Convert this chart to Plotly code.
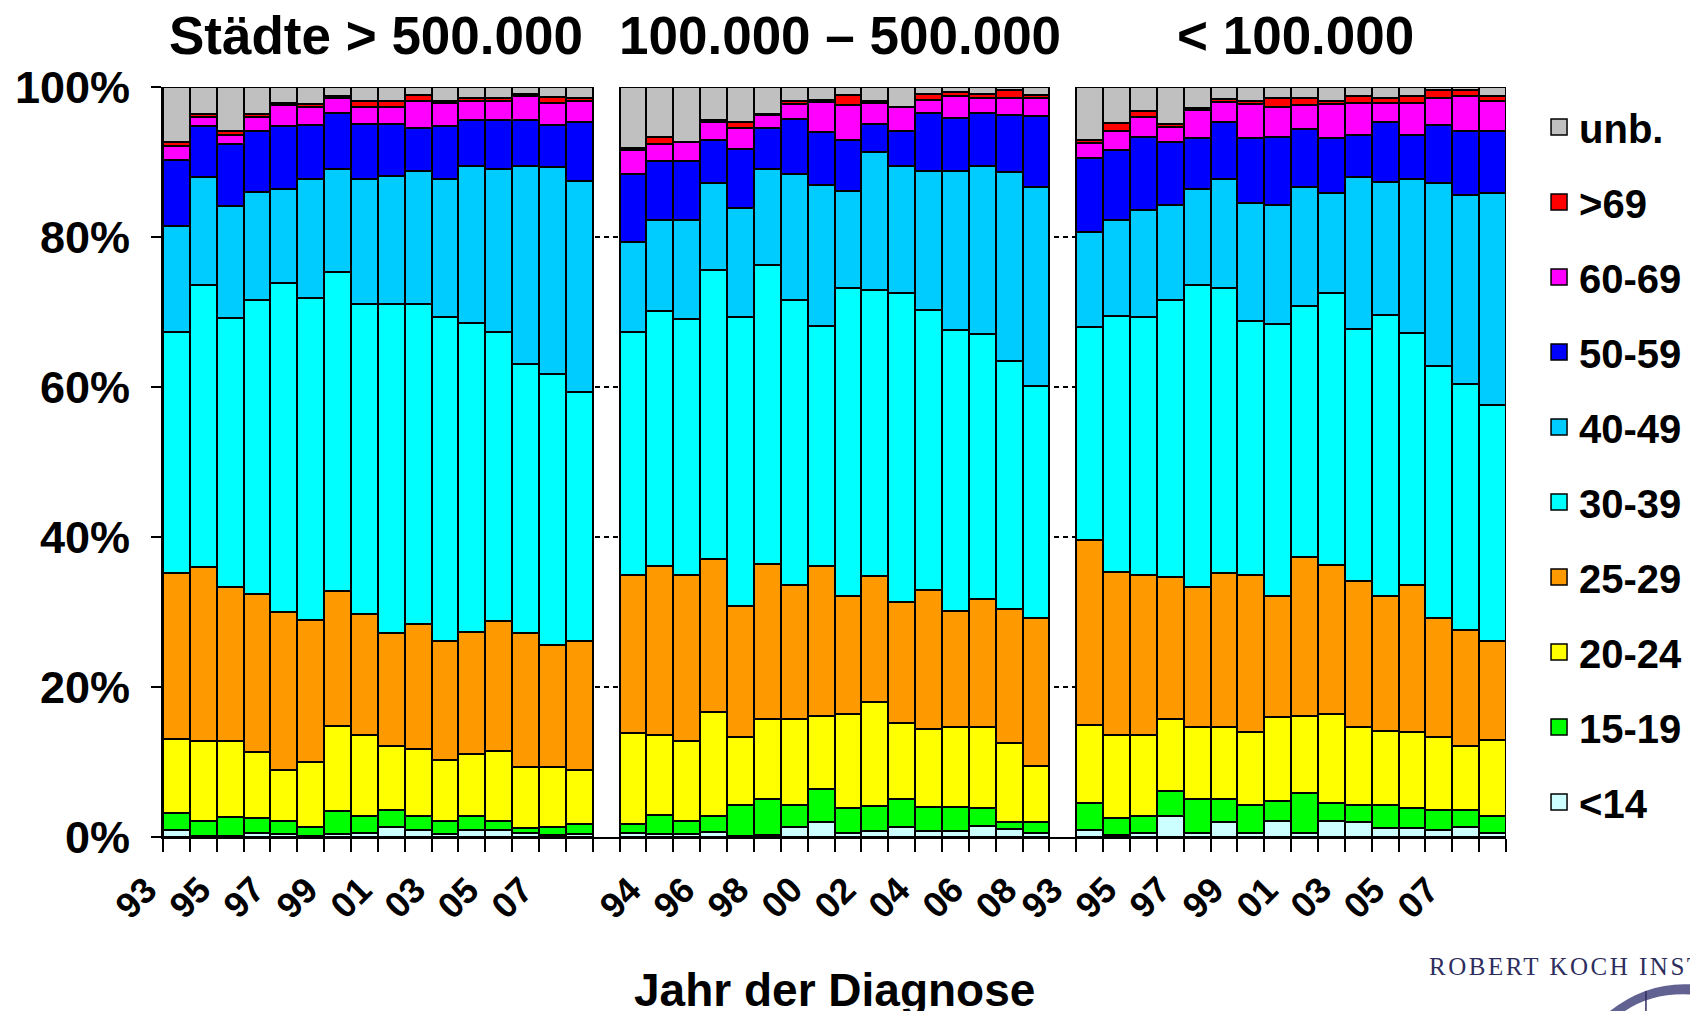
import plotly.graph_objects as go

# ---------------- data (percent of cases per age group) ----------------
years_gt500 = ["93", "94", "95", "96", "97", "98", "99", "00", "01", "02", "03", "04", "05", "06", "07", "08"]
years_mid = ["94", "95", "96", "97", "98", "99", "00", "01", "02", "03", "04", "05", "06", "07", "08", "09"]
years_lt100 = ["93", "94", "95", "96", "97", "98", "99", "00", "01", "02", "03", "04", "05", "06", "07", "08"]

panel_titles = ["Städte > 500.000", "100.000 – 500.000", "< 100.000"]
age_groups = ["<14", "15-19", "20-24", "25-29", "30-39", "40-49", "50-59", "60-69", ">69", "unb."]
age_colors = ["#CCFFFF", "#00FF00", "#FFFF00", "#FF9900", "#00FFFF", "#00CCFF", "#0000FF", "#FF00FF", "#FF0000", "#C0C0C0"]

# each list: 16 bars (>500.000), 16 bars (100.000-500.000), 16 bars (<100.000)
v_lt14 = [1.0, 0.2, 0.1, 0.6, 0.4, 0.2, 0.4, 0.6, 1.4, 0.9, 0.4, 0.9, 0.9, 0.5, 0.3, 0.4,
          0.6, 0.4, 0.4, 0.7, 0.1, 0.3, 1.4, 2.0, 0.6, 0.8, 1.4, 0.8, 0.8, 1.5, 1.1, 0.5,
          1.0, 0.3, 0.6, 2.8, 0.6, 2.0, 0.6, 2.2, 0.6, 2.2, 2.0, 1.2, 1.2, 0.9, 1.4, 0.6]
v_15_19 = [2.2, 2.0, 2.6, 1.9, 1.8, 1.2, 3.1, 2.2, 2.2, 1.9, 1.8, 1.9, 1.3, 0.7, 1.1, 1.3,
           1.1, 2.6, 1.8, 2.1, 4.2, 4.8, 2.9, 4.4, 3.3, 3.3, 3.7, 3.2, 3.2, 2.4, 0.9, 1.5,
           3.5, 2.2, 2.2, 3.3, 4.5, 3.1, 3.7, 2.6, 5.3, 2.3, 2.3, 3.1, 2.7, 2.7, 2.2, 2.2]
v_20_24 = [9.9, 10.6, 10.1, 8.8, 6.8, 8.6, 11.3, 10.8, 8.5, 9.0, 8.1, 8.3, 9.3, 8.2, 8.0, 7.3,
           12.2, 10.6, 10.6, 13.9, 9.1, 10.6, 11.4, 9.8, 12.5, 13.9, 10.1, 10.4, 10.7, 10.8, 10.6, 7.5,
           10.5, 11.1, 10.8, 9.6, 9.6, 9.6, 9.7, 11.2, 10.3, 11.9, 10.4, 9.9, 10.1, 9.8, 8.5, 10.1]
v_25_29 = [22.1, 23.2, 20.6, 21.1, 21.0, 19.0, 18.0, 16.2, 15.1, 16.6, 15.8, 16.3, 17.3, 17.8, 16.2, 17.2,
           21.1, 22.6, 22.2, 20.4, 17.4, 20.7, 17.9, 19.9, 15.7, 16.8, 16.1, 18.5, 15.5, 17.1, 17.8, 19.7,
           24.6, 21.8, 21.4, 19.0, 18.7, 20.5, 21.0, 16.1, 21.1, 19.9, 19.5, 17.9, 19.6, 15.8, 15.5, 13.3]
v_30_39 = [32.2, 37.6, 35.8, 39.2, 43.9, 42.9, 42.5, 41.3, 43.9, 42.7, 43.2, 41.1, 38.6, 35.9, 36.2, 33.2,
           32.4, 33.9, 34.1, 38.5, 38.5, 39.9, 38.0, 32.1, 41.1, 38.1, 41.3, 37.4, 37.4, 35.3, 33.1, 31.0,
           28.4, 34.1, 34.3, 36.9, 40.2, 38.0, 33.8, 36.3, 33.5, 36.3, 33.5, 37.5, 33.6, 33.6, 32.8, 31.4]
v_40_49 = [14.1, 14.4, 14.9, 14.4, 12.5, 15.8, 13.8, 16.6, 17.1, 17.7, 18.4, 21.0, 21.7, 26.4, 27.5, 28.1,
           11.9, 12.2, 13.2, 11.6, 14.6, 12.8, 16.8, 18.7, 13.0, 18.5, 16.9, 18.5, 21.2, 22.4, 25.2, 26.5,
           12.7, 12.8, 14.3, 12.7, 12.8, 14.5, 15.7, 15.9, 15.9, 13.3, 20.3, 17.8, 20.5, 24.4, 25.2, 28.3]
v_50_59 = [8.8, 6.8, 8.3, 8.2, 8.4, 7.3, 7.5, 7.4, 6.9, 5.7, 7.1, 6.1, 6.5, 6.1, 5.7, 7.8,
           9.1, 7.8, 7.8, 5.8, 7.8, 5.4, 7.4, 7.1, 6.8, 3.7, 4.7, 7.8, 7.1, 7.1, 7.6, 9.4,
           9.9, 9.3, 9.8, 8.4, 6.8, 7.6, 8.7, 9.1, 7.7, 7.3, 5.6, 7.9, 5.9, 7.8, 8.6, 8.3]
v_60_69 = [1.9, 1.2, 1.2, 1.8, 2.8, 2.3, 2.0, 2.3, 2.3, 3.7, 3.1, 2.5, 2.5, 3.2, 2.9, 2.8,
           3.2, 2.3, 2.6, 2.3, 2.8, 1.8, 2.0, 4.0, 4.6, 2.8, 3.1, 1.7, 2.9, 2.0, 2.3, 2.5,
           2.0, 2.6, 2.6, 2.0, 3.8, 2.7, 4.6, 3.9, 3.2, 4.6, 4.3, 2.6, 4.3, 3.5, 4.6, 3.9]
v_gt69 = [0.5, 0.4, 0.6, 0.4, 0.3, 0.5, 0.2, 0.7, 0.7, 0.8, 0.3, 0.4, 0.4, 0.3, 0.8, 0.4,
          0.3, 1.0, 0.0, 0.3, 0.9, 0.1, 0.4, 0.3, 1.4, 0.3, 0.1, 0.8, 0.5, 0.5, 1.0, 0.4,
          0.4, 1.0, 0.8, 0.4, 0.2, 0.4, 0.3, 1.2, 1.0, 0.4, 0.9, 0.7, 0.9, 1.1, 0.8, 0.7]
v_unb = [7.3, 3.6, 5.8, 3.6, 2.1, 2.2, 1.2, 1.9, 1.9, 1.0, 1.8, 1.5, 1.5, 0.9, 1.3, 1.5,
         8.1, 6.6, 7.3, 4.4, 4.6, 3.6, 1.8, 1.7, 1.0, 1.8, 2.6, 0.9, 0.7, 0.9, 0.4, 1.0,
         7.0, 4.8, 3.2, 4.9, 2.8, 1.6, 1.9, 1.5, 1.4, 1.8, 1.2, 1.4, 1.2, 0.4, 0.4, 1.2]

y_ticks = [0, 20, 40, 60, 80, 100]

series = [v_lt14, v_15_19, v_20_24, v_25_29, v_30_39, v_40_49, v_50_59, v_60_69, v_gt69, v_unb]

# ---------------- layout helpers ----------------
panels = [years_gt500, years_mid, years_lt100]
# in the original the year labels of each block are set somewhat left of their bars
label_shift = [-1.5, -0.47, -1.77]   # in bar widths, per block
positions = []
year_labels = []
label_pos = []
for p, yrs in enumerate(panels):
    for i, yr in enumerate(yrs):
        pos = p * (len(yrs) + 1) + i
        positions.append(pos)
        if i % 2 == 0:
            year_labels.append(yr)
            label_pos.append(pos + label_shift[p])
n_slots = positions[-1] + 1

FONT = "Liberation Sans, Arial, sans-serif"

fig = go.Figure()
for name, col, vals in zip(age_groups, age_colors, series):
    fig.add_trace(go.Bar(
        x=positions, y=vals, name=name, width=1,
        marker=dict(color=col, line=dict(color="black", width=2)),
        showlegend=False, legendgroup=name,
        hovertemplate=name + ": %{y:.1f}%<extra></extra>",
    ))

# legend entries (top: unb., bottom: <14)
for name, col in zip(reversed(age_groups), reversed(age_colors)):
    fig.add_trace(go.Scatter(
        x=[None], y=[None], mode="markers", name=name, legendgroup=name,
        marker=dict(symbol="square", size=16, color=col, line=dict(color="black", width=1.5)),
    ))

fig.update_layout(
    width=1690, height=1003,
    margin=dict(l=155, r=192, t=79, b=174, autoexpand=False),
    paper_bgcolor="white", plot_bgcolor="white",
    barmode="stack", bargap=0,
    font=dict(family=FONT, color="black", weight="bold"),
    xaxis=dict(
        type="linear", range=[-0.5, n_slots - 0.5],
        tickmode="array", tickvals=positions, ticks="", showticklabels=False,
        showline=True, linecolor="black", linewidth=2,
        showgrid=False, zeroline=False, automargin=False,
        minor=dict(tickmode="linear", tick0=-0.5, dtick=1, ticks="outside",
                   ticklen=13, tickwidth=2, tickcolor="black", showgrid=False),
    ),
    yaxis=dict(
        range=[0, 100], tickmode="array", tickvals=y_ticks,
        ticktext=[f"{v}%" for v in y_ticks],
        ticks="outside", ticklen=10, tickwidth=2, tickcolor="black",
        ticklabelstandoff=12,
        tickfont=dict(size=45, family=FONT, weight="bold", color="black"),
        showline=True, linecolor="black", linewidth=2,
        showgrid=True, gridcolor="black", gridwidth=2, griddash="5px,4px",
        zeroline=False, automargin=False,
    ),
    legend=dict(
        x=1.0246, xanchor="left", y=0.99, yanchor="top",
        traceorder="grouped", tracegroupgap=20,
        font=dict(size=40, family=FONT, weight="bold", color="black"),
        bgcolor="rgba(0,0,0,0)", itemclick=False,
    ),
)

# rotated year labels under the bars
for lp, lab in zip(label_pos, year_labels):
    fig.add_annotation(
        x=(lp + 0.5) / n_slots, y=-0.081, xref="paper", yref="paper",
        text=lab, showarrow=False, textangle=-45,
        xanchor="center", yanchor="middle",
        font=dict(size=36, family=FONT, weight="bold", color="black"),
    )

title_x = [0.1586, 0.504, 0.8436]
for tx, txt in zip(title_x, panel_titles):
    fig.add_annotation(
        x=tx, y=1.069, xref="paper", yref="paper", text=txt, showarrow=False,
        xanchor="center", yanchor="middle",
        font=dict(size=53, family=FONT, weight="bold", color="black"),
    )

fig.add_annotation(
    x=0.5, y=-0.204, xref="paper", yref="paper", text="Jahr der Diagnose", showarrow=False,
    xanchor="center", yanchor="middle",
    font=dict(size=46, family=FONT, weight="bold", color="black"),
)

# Robert Koch Institut logo (text + swoosh), cut at the right edge as in the original
fig.add_annotation(
    x=0.941, y=-0.172, xref="paper", yref="paper",
    text='<span style="letter-spacing:2.5px">ROBERT KOCH INSTITUT</span>', showarrow=False,
    xanchor="left", yanchor="middle",
    font=dict(size=25, family="Liberation Serif, Times New Roman, serif", weight="normal", color="#2E2E5E"),
)
fig.add_shape(
    type="path", xref="paper", yref="paper",
    path="M 1.0774,-0.232 Q 1.1072,-0.19 1.1430,-0.1973 L 1.1430,-0.2107 Q 1.1109,-0.205 1.0886,-0.232 Z",
    fillcolor="rgba(46,46,110,0.75)", line=dict(width=0),
)
fig.add_shape(
    type="line", xref="paper", yref="paper",
    x0=1.1042, x1=1.1042, y0=-0.2053, y1=-0.232,
    line=dict(color="#2E2E5E", width=1.5),
)

fig.write_html("out.html")
